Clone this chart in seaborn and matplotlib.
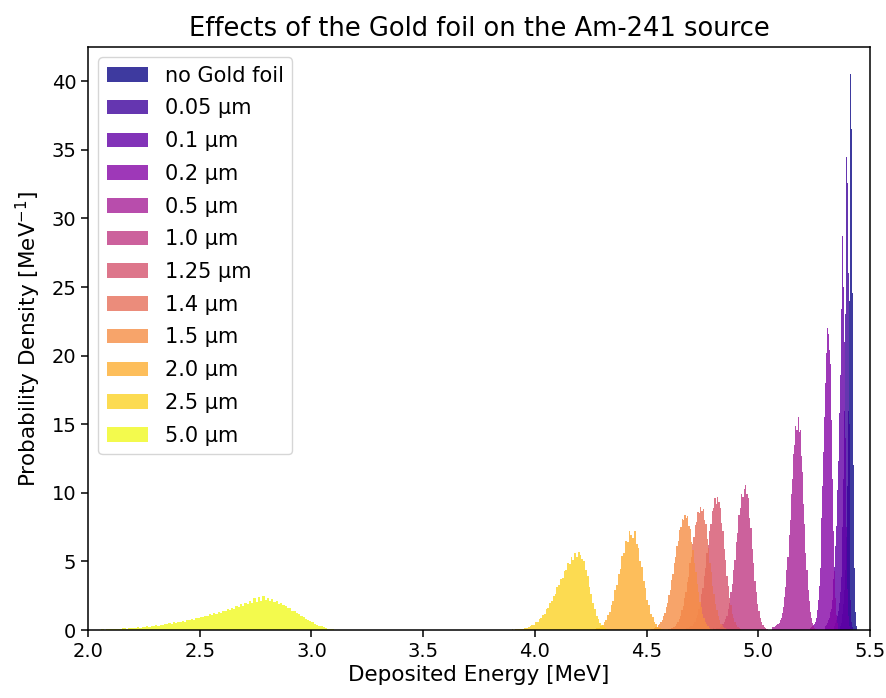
import numpy as np
import pandas as pd
import matplotlib
matplotlib.use("Agg")
import matplotlib.pyplot as plt
import matplotlib.colors as mcolors
import seaborn as sns

# ---- data ----
labels = ["no Gold foil", "0.05 µm", "0.1 µm", "0.2 µm", "0.5 µm", "1.0 µm",
          "1.25 µm", "1.4 µm", "1.5 µm", "2.0 µm", "2.5 µm", "5.0 µm"]

# first bin edge [MeV] and bin width [MeV] of each histogram
bin_start = [5.364, 5.340, 5.300, 5.230, 5.060, 4.790, 4.671, 4.595, 4.519, 4.267, 3.872, 2.05]
bin_width = [0.004, 0.004, 0.004, 0.004, 0.005, 0.006, 0.006, 0.006, 0.006, 0.008, 0.008, 0.010]

# probability density per bin [1/MeV]
d_none = [0.3, 0.5, 0.8, 1.2, 1.9, 2.9, 4.4, 6.8, 10.5, 16.0, 24.0, 33.0, 40.5, 36.5,
          24.6, 12.0, 4.5, 1.3, 0.3]
d_005 = [0.3, 0.5, 0.7, 1.0, 1.4, 2.0, 2.8, 3.9, 5.4, 7.5, 11.0, 16.0, 23.0, 34.5, 32.6,
         26.0, 15.0, 6.5, 2.2, 0.6, 0.2]
d_01 = [0.3, 0.4, 0.5, 0.7, 0.9, 1.3, 1.5, 2.2, 2.7, 3.7, 4.6, 6.1, 7.6, 10.2, 12.3, 15.8,
        18.6, 23.4, 26.5, 28.7, 25.0, 21.0, 14.0, 7.5, 3.0, 1.0, 0.3]
d_02 = [0.15, 0.2, 0.25, 0.3, 0.35, 0.45, 0.6, 0.9, 1.45, 2.2, 3.2, 4.5, 6.1, 8.2, 10.5, 13.0,
        15.5, 18.0, 20.2, 22.0, 21.6, 23.5, 20.4, 19.4, 15.3, 11.0, 7.2, 4.3, 2.3, 1.1, 0.5, 0.2]
d_05 = [0.2, 0.25, 0.2, 0.3, 0.35, 0.45, 0.5, 0.7, 0.85, 1.25, 1.65, 2.4, 3.1, 4.35, 5.3, 6.9,
        8.0, 9.9, 11.0, 12.8, 13.5, 14.9, 14.6, 15.5, 14.4, 14.6, 12.7, 11.5, 9.2, 7.7, 5.6,
        4.4, 2.9, 2.15, 1.3, 0.9, 0.5, 0.32, 0.17, 0.09, 0.05]
d_10 = [0.1, 0.13, 0.11, 0.15, 0.16, 0.18, 0.24, 0.28, 0.44, 0.56, 0.83, 1.05, 1.55, 1.95,
        2.75, 3.35, 4.4, 5.1, 6.4, 7.1, 8.4, 8.9, 9.95, 9.7, 10.3, 10.6, 9.9, 9.6, 8.2, 7.4,
        5.9, 4.9, 3.6, 2.8, 1.9, 1.4, 0.85, 0.58, 0.34, 0.2, 0.12, 0.06]
d_125 = [0.1, 0.12, 0.16, 0.19, 0.26, 0.3, 0.45, 0.58, 0.86, 1.1, 1.55, 1.9, 2.6, 3.05, 3.95,
         4.55, 5.6, 6.2, 7.25, 7.7, 8.7, 8.9, 9.6, 9.2, 9.7, 9.3, 8.9, 7.8, 7.2, 5.9, 5.1,
         3.95, 3.2, 2.3, 1.8, 1.2, 0.86, 0.55, 0.38, 0.22, 0.14, 0.08]
d_14 = [0.08, 0.1, 0.14, 0.16, 0.23, 0.29, 0.44, 0.58, 0.83, 1.02, 1.45, 1.75, 2.3, 2.75, 3.5,
        3.9, 4.85, 5.35, 6.3, 6.8, 7.65, 7.9, 8.6, 8.5, 9.0, 8.7, 8.85, 8.0, 7.7, 6.6, 6.0,
        4.9, 4.2, 3.2, 2.65, 1.9, 1.45, 1.0, 0.74, 0.47, 0.33, 0.2, 0.12, 0.07]
d_15 = [0.08, 0.11, 0.13, 0.19, 0.22, 0.33, 0.41, 0.6, 0.74, 1.04, 1.25, 1.68, 1.95, 2.55, 2.9,
        3.65, 4.05, 4.9, 5.3, 6.15, 6.5, 7.3, 7.5, 8.1, 8.0, 8.4, 8.2, 8.3, 7.6, 7.35, 6.4,
        5.85, 4.85, 4.25, 3.35, 2.8, 2.05, 1.65, 1.15, 0.9, 0.6, 0.43, 0.27, 0.18, 0.11, 0.06]
d_20 = [0.09, 0.14, 0.18, 0.29, 0.38, 0.6, 0.75, 1.1, 1.32, 1.85, 2.15, 2.9, 3.25, 4.1, 4.45,
        5.4, 5.6, 6.5, 6.4, 7.2, 6.9, 6.7, 7.25, 6.3, 6.0, 5.05, 4.6, 3.55, 3.05, 2.2, 1.8,
        1.2, 0.94, 0.58, 0.42, 0.25, 0.16, 0.1, 0.05]
d_25 = [0.01, 0.03, 0.02, 0.04, 0.03, 0.05, 0.06, 0.05, 0.09, 0.1, 0.15, 0.17, 0.25, 0.27,
        0.37, 0.4, 0.55, 0.6, 0.8, 0.87, 1.1, 1.2, 1.5, 1.6, 1.95, 2.1, 2.5, 2.65, 3.1, 3.25,
        3.7, 3.8, 4.3, 4.35, 4.85, 4.8, 5.3, 5.1, 5.6, 5.3, 5.7, 5.45, 5.2, 5.05, 4.4, 3.95,
        3.15, 2.65, 1.95, 1.55, 1.05, 0.78, 0.5, 0.34, 0.2, 0.13, 0.07, 0.04]
d_50 = [0.03, 0.05, 0.02, 0.06, 0.04, 0.08, 0.05, 0.09, 0.11, 0.07,
        0.12, 0.14, 0.10, 0.16, 0.13, 0.18, 0.15, 0.21, 0.17, 0.24,
        0.22, 0.28, 0.25, 0.31, 0.27, 0.36, 0.31, 0.40, 0.37, 0.44,
        0.42, 0.50, 0.46, 0.55, 0.52, 0.60, 0.57, 0.66, 0.62, 0.74,
        0.70, 0.80, 0.76, 0.88, 0.84, 0.97, 0.92, 1.05, 1.00, 1.14,
        1.08, 1.22, 1.18, 1.33, 1.27, 1.42, 1.36, 1.52, 1.47, 1.63,
        1.56, 1.75, 1.68, 1.86, 1.78, 1.98, 1.90, 2.10, 1.98, 2.30,
        2.05, 2.42, 2.12, 2.50, 2.18, 2.35, 2.08, 2.25, 2.02, 2.12,
        1.92, 1.98, 1.80, 1.78, 1.62, 1.58, 1.42, 1.36, 1.22, 1.15,
        1.02, 0.94, 0.82, 0.74, 0.63, 0.56, 0.46, 0.40, 0.32, 0.26,
        0.20, 0.15, 0.11, 0.08, 0.05, 0.03, 0.02]

densities = [d_none, d_005, d_01, d_02, d_05, d_10, d_125, d_14, d_15, d_20, d_25, d_50]

x_ticks = [2.0, 2.5, 3.0, 3.5, 4.0, 4.5, 5.0, 5.5]
y_ticks = [0, 5, 10, 15, 20, 25, 30, 35, 40]

# ---- figure ----
fig = plt.figure(figsize=(8.87, 6.98), dpi=100)
ax = fig.add_axes([0.0992, 0.0974, 0.8818, 0.8353])

cmap = plt.get_cmap("plasma")
colors = [mcolors.to_hex(cmap(v)) for v in np.linspace(0, 1, len(labels))]

for lab, start, w, vals, col in zip(labels, bin_start, bin_width, densities, colors):
    vals = np.asarray(vals, dtype=float)
    edges = start + w * np.arange(len(vals) + 1)
    df = pd.DataFrame({"E": edges[:-1] + w / 2, "D": vals})
    sns.histplot(data=df, x="E", weights="D", bins=list(edges), stat="count",
                 element="step", fill=True, color=col, alpha=0.8, linewidth=0,
                 label=lab, ax=ax)

ax.set_xlim(2.0, 5.5)
ax.set_ylim(0, 42.5)
ax.set_xticks(x_ticks)
ax.set_yticks(y_ticks)
ax.tick_params(labelsize=14, length=4.9, width=1.1)
for s in ax.spines.values():
    s.set_linewidth(1.1)

ax.set_xlabel("Deposited Energy [MeV]", fontsize=15.5, labelpad=3)
ax.set_ylabel("Probability Density [MeV$^{-1}$]", fontsize=15.5, labelpad=6)
ax.set_title("Effects of the Gold foil on the Am-241 source", fontsize=18.5, pad=8)
ax.legend(loc="upper left", fontsize=15, labelspacing=0.61)

fig.savefig("out.png", dpi=100)
